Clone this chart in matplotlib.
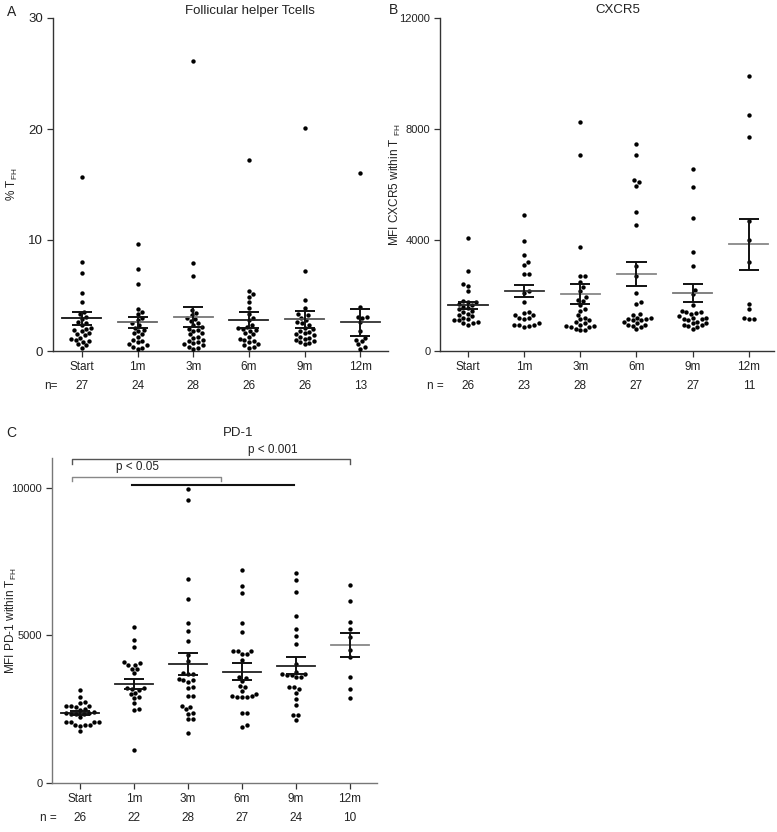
import matplotlib
matplotlib.use('Agg')
import matplotlib.pyplot as plt
import numpy as np

plt.rcParams['font.family'] = ['Liberation Sans', 'DejaVu Sans']
plt.rcParams['mathtext.fontset'] = 'custom'
plt.rcParams['mathtext.rm'] = 'Liberation Sans'
plt.rcParams['mathtext.it'] = 'Liberation Sans:italic'

W, H = 777, 832

groups = ['Start', '1m', '3m', '6m', '9m', '12m']

# A: % TFH per time point
tfh_pct = [
    [15.7, 8.0, 7.0, 5.2, 4.4, 3.5, 3.3, 3.1, 2.9, 2.6, 2.5, 2.3, 2.1, 2.0,
     1.9, 1.8, 1.6, 1.5, 1.4, 1.2, 1.1, 1.0, 0.9, 0.8, 0.6, 0.5, 0.3],
    [9.6, 7.4, 6.0, 3.8, 3.5, 3.3, 3.0, 2.8, 2.5, 2.3, 2.1, 1.9, 1.8, 1.6,
     1.5, 1.3, 1.0, 0.9, 0.8, 0.6, 0.5, 0.4, 0.3, 0.2],
    [26.1, 7.9, 6.8, 3.7, 3.4, 3.2, 3.0, 2.9, 2.7, 2.5, 2.3, 2.2, 2.0, 1.9,
     1.8, 1.6, 1.5, 1.3, 1.2, 1.0, 0.9, 0.8, 0.7, 0.6, 0.5, 0.4, 0.3, 0.2],
    [17.2, 5.4, 5.1, 4.9, 4.4, 3.9, 3.3, 3.0, 2.8, 2.3, 2.2, 2.1, 2.0, 1.9,
     1.8, 1.6, 1.5, 1.3, 1.1, 1.0, 0.9, 0.8, 0.6, 0.5, 0.4, 0.3],
    [20.1, 7.2, 4.6, 3.9, 3.3, 3.2, 3.0, 2.8, 2.6, 2.5, 2.3, 2.1, 2.0, 1.8,
     1.7, 1.6, 1.5, 1.4, 1.3, 1.2, 1.1, 1.0, 0.9, 0.8, 0.7, 0.6],
    [16.0, 4.0, 3.1, 3.1, 3.0, 2.6, 1.8, 1.2, 1.0, 0.9, 0.6, 0.4, 0.2],
]
tfh_mean = [2.94, 2.6, 3.03, 2.8, 2.85, 2.58]
tfh_sem = [0.6, 0.5, 0.9, 0.7, 0.75, 1.2]
tfh_n = [27, 24, 28, 26, 26, 13]

# B: MFI CXCR5 within TFH
cxcr5 = [
    [4080, 2880, 2400, 2350, 2170, 1800, 1780, 1750, 1700, 1650, 1600, 1550, 1500,
     1450, 1400, 1350, 1300, 1250, 1200, 1150, 1100, 1100, 1050, 1000, 1000, 950],
    [4900, 3950, 3450, 3200, 3100, 2780, 2760, 2150, 2100, 1750, 1400, 1380, 1300,
     1280, 1200, 1180, 1150, 1000, 950, 940, 920, 900, 880],
    [8250, 7050, 3750, 2700, 2700, 2500, 2300, 2150, 1950, 1850, 1800, 1650, 1500,
     1450, 1300, 1200, 1150, 1100, 1050, 1000, 950, 900, 900, 850, 850, 800, 750, 750],
    [7450, 7050, 6150, 6100, 5950, 5000, 4550, 3050, 2700, 2100, 1750, 1700, 1350,
     1300, 1200, 1180, 1150, 1150, 1100, 1100, 1050, 1000, 950, 950, 900, 850, 780],
    [6550, 5900, 4780, 3580, 3080, 2200, 2050, 1660, 1450, 1420, 1400, 1380, 1350,
     1250, 1200, 1180, 1150, 1150, 1100, 1050, 1000, 1000, 950, 950, 900, 850, 800],
    [9900, 8500, 7700, 4700, 4000, 3200, 1700, 1500, 1200, 1150, 1150],
]
cxcr5_mean = [1650, 2160, 2050, 2780, 2090, 3850]
cxcr5_sem = [130, 230, 350, 440, 340, 920]
cxcr5_n = [26, 23, 28, 27, 27, 11]

# C: MFI PD-1 within TFH
pd1 = [
    [3150, 2920, 2750, 2720, 2620, 2600, 2590, 2580, 2500, 2480, 2400, 2380, 2360,
     2350, 2340, 2330, 2250, 2080, 2070, 2060, 2050, 1980, 1960, 1950, 1940, 1760],
    [5280, 4850, 4590, 4100, 4050, 4000, 3980, 3870, 3850, 3720, 3220, 3200, 3180,
     3150, 3050, 3000, 2900, 2880, 2700, 2500, 2480, 1120],
    [9950, 9570, 6900, 6230, 5430, 5150, 4820, 4340, 4140, 3720, 3700, 3680, 3520,
     3500, 3480, 3430, 3250, 3230, 2950, 2930, 2600, 2580, 2500, 2370, 2350, 2160,
     2150, 1700],
    [7200, 6680, 6430, 5410, 5110, 4480, 4470, 4460, 4380, 4360, 4170, 3590, 3570,
     3450, 3280, 3260, 3120, 3020, 2940, 2930, 2920, 2910, 2900, 2370, 2360, 1970, 1900],
    [7100, 6880, 6450, 5660, 5220, 4960, 4700, 4030, 3770, 3700, 3680, 3670, 3660,
     3600, 3580, 3250, 3240, 3180, 3040, 2840, 2640, 2310, 2300, 2140],
    [6690, 6170, 5440, 5210, 4930, 4510, 4250, 3580, 3190, 2870],
]
pd1_mean = [2370, 3360, 4020, 3770, 3970, 4680]
pd1_sem = [80, 170, 380, 290, 290, 400]
pd1_n = [26, 22, 28, 27, 24, 10]

# significance brackets in C: (x0, x1, y, label, label_x, colour)
pd1_sig_lines = [
    (-0.15, 5.0, 10950, 'p < 0.001', 3.57, '#555555'),
    (-0.15, 2.61, 10370, 'p < 0.05', 1.06, '#888888'),
]
pd1_bar = (0.96, 3.96, 10100)


def px_box(left, top, right, bottom):
    return [left / W, 1 - bottom / H, (right - left) / W, (bottom - top) / H]


def swarm_x(ax, x0, vals, d=5.0):
    pts = ax.transData.transform(np.column_stack([np.full(len(vals), float(x0)), vals]))
    cx = pts[0, 0]
    ys = pts[:, 1]
    off = np.zeros(len(vals))
    done = []
    for i in np.argsort(ys, kind='stable'):
        y = ys[i]
        near = [j for j in done if abs(ys[j] - y) < d]
        cands = [0.0]
        for j in near:
            dx = np.sqrt(d ** 2 - (ys[j] - y) ** 2)
            cands += [off[j] + dx, off[j] - dx]
        cands.sort(key=abs)
        for c in cands:
            if all((off[j] - c) ** 2 + (ys[j] - y) ** 2 >= d ** 2 - 1e-6 for j in near):
                off[i] = c
                break
        done.append(i)
    back = ax.transData.inverted().transform(np.column_stack([cx + off, ys]))
    return back[:, 0]


def draw_panel(ax, values, means, sems, n, ylim, yticks, mean_colors, ylabel,
               label_x, n_prefix, axis_color='#333333', xlim=(-0.52, 5.5), tick_size=8.5):
    ax.set_xlim(*xlim)
    ax.set_ylim(*ylim)
    for side in ['top', 'right']:
        ax.spines[side].set_visible(False)
    for side in ['left', 'bottom']:
        ax.spines[side].set_color(axis_color)
        ax.spines[side].set_linewidth(1.0)
    ax.set_yticks(yticks)
    ax.set_yticklabels([str(t) for t in yticks])
    ax.set_xticks(range(len(groups)))
    ax.set_xticklabels(groups)
    ax.tick_params(direction='out', length=4, width=0.9, color='#333333',
                   labelcolor='#222222', labelsize=8.5, pad=3)
    ax.tick_params(axis='y', labelsize=tick_size)

    for i, vals in enumerate(values):
        xs = swarm_x(ax, i, vals)
        ax.scatter(xs, vals, s=10, color='black', linewidths=0, zorder=3, clip_on=False)
        m, s = means[i], sems[i]
        ax.plot([i - 0.35, i + 0.35], [m, m], color=mean_colors[i], lw=1.3, zorder=4)
        ax.vlines(i, m - s, m + s, color='#111111', lw=1.4, zorder=4)
        ax.hlines([m - s, m + s], i - 0.18, i + 0.18, color='#111111', lw=1.4, zorder=4)

    for i, c in enumerate(n):
        ax.annotate(str(c), xy=(i, 0), xycoords=('data', 'axes fraction'),
                    xytext=(0, -25), textcoords='offset points',
                    ha='center', va='center', fontsize=8.5, color='#222222')
    ax.annotate(n_prefix, xy=(-0.44, 0), xycoords=('data', 'axes fraction'),
                xytext=(0, -25), textcoords='offset points',
                ha='right', va='center', fontsize=8.5, color='#222222')

    ax.set_ylabel(ylabel, fontsize=8.5, color='#222222')
    ax.yaxis.set_label_coords(label_x, 0.5)


fig = plt.figure(figsize=(W / 100, H / 100), dpi=100)
fig.patch.set_facecolor('white')

ax_a = fig.add_axes(px_box(53, 18, 388, 351))
draw_panel(ax_a, tfh_pct, tfh_mean, tfh_sem, tfh_n, (0, 30), [0, 10, 20, 30],
           ['#111111', '#666666', '#777777', '#222222', '#555555', '#333333'],
           '% T$_{\\mathrm{FH}}$', -0.098, 'n=', tick_size=9.5)

ax_b = fig.add_axes(px_box(440, 18, 774, 351))
draw_panel(ax_b, cxcr5, cxcr5_mean, cxcr5_sem, cxcr5_n, (0, 12000), [0, 4000, 8000, 12000],
           ['#222222', '#333333', '#888888', '#888888', '#777777', '#888888'],
           'MFI CXCR5 within T $_{\\mathrm{FH}}$', -0.111, 'n =', xlim=(-0.5, 5.45),
           tick_size=8)

ax_c = fig.add_axes(px_box(52, 458, 377, 783))
draw_panel(ax_c, pd1, pd1_mean, pd1_sem, pd1_n, (0, 11000), [0, 5000, 10000],
           ['#111111', '#222222', '#222222', '#222222', '#222222', '#888888'],
           'MFI PD-1 within T$_{\\mathrm{FH}}$', -0.102, 'n =', axis_color='#777777',
           tick_size=8)

# significance brackets
for x0, x1, y, lab, lx, col in pd1_sig_lines:
    ax_c.plot([x0, x0, x1, x1], [y - 150, y, y, y - 150], color=col, lw=1.0, clip_on=False)
    ax_c.text(lx, y + 120, lab, ha='center', va='bottom', fontsize=8.5, color='#222222')
bx0, bx1, by = pd1_bar
ax_c.plot([bx0, bx1], [by, by], color='#111111', lw=1.5, clip_on=False)


def fig_text(x, y, s, **kw):
    fig.text(x / W, 1 - y / H, s, ha='center', va='center', color='#222222', **kw)


fig_text(12, 12, 'A', fontsize=10)
fig_text(394, 10, 'B', fontsize=10)
fig_text(11, 433, 'C', fontsize=10)
fig_text(250, 11, 'Follicular helper Tcells', fontsize=9.5)
fig_text(618, 10, 'CXCR5', fontsize=9.5)
fig_text(238, 433, 'PD-1', fontsize=9.5)

fig.savefig('out.png', dpi=100)
